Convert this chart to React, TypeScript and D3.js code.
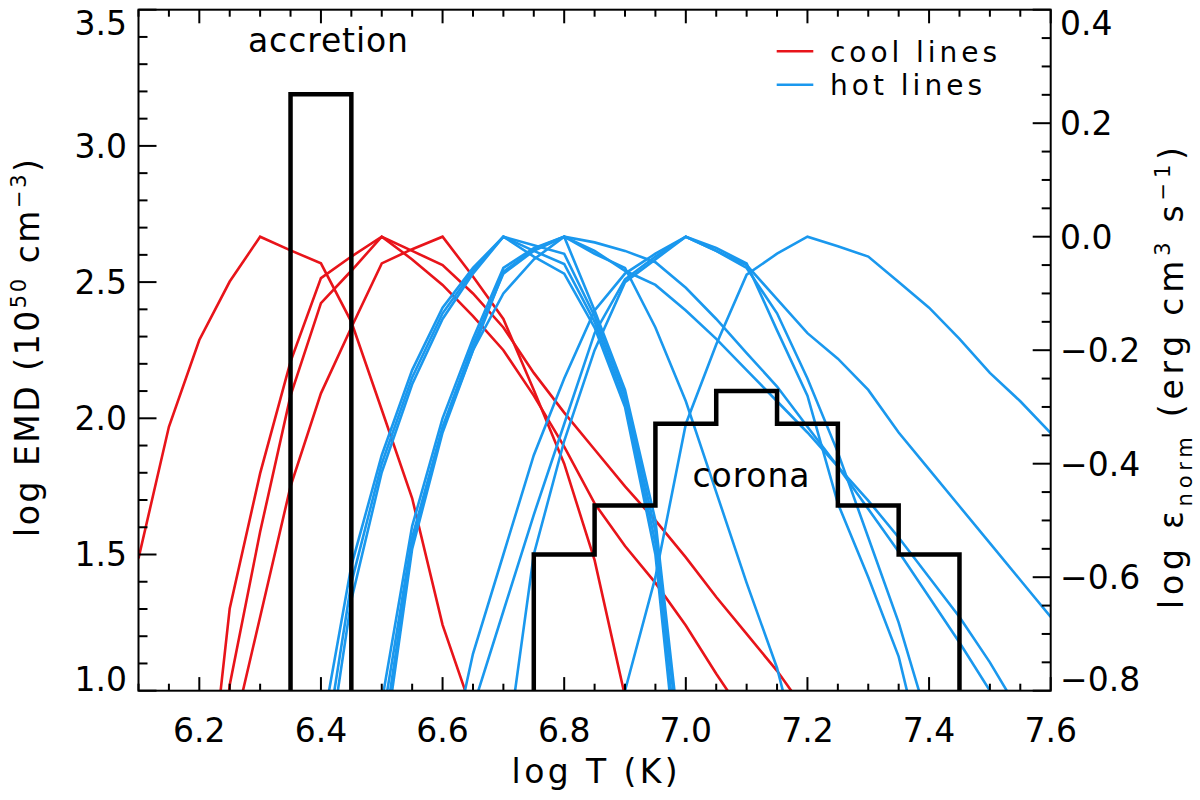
import React, { useEffect, useRef } from 'react';
import * as d3 from 'd3';

type Pt = [number, number];

// Normalised line emissivities, [log T, log eps_norm] (right axis)
const coolA: Pt[] = [[6.1, -0.567], [6.15, -0.335], [6.2, -0.182], [6.25, -0.079], [6.3, 0], [6.35, -0.024], [6.4, -0.047], [6.45, -0.15], [6.5, -0.305], [6.55, -0.461], [6.6, -0.684], [6.65, -0.84]];
const coolB: Pt[] = [[6.2, -1.14], [6.25, -0.655], [6.3, -0.417], [6.35, -0.22], [6.4, -0.073], [6.45, -0.035], [6.5, 0], [6.55, -0.025], [6.6, -0.05], [6.65, -0.1], [6.7, -0.16], [6.75, -0.24], [6.8, -0.31], [6.85, -0.375], [6.9, -0.44], [6.95, -0.5], [7.0, -0.565], [7.05, -0.635], [7.1, -0.7], [7.15, -0.765], [7.2, -0.84]];
const coolC: Pt[] = [[6.2, -1.3], [6.25, -0.79], [6.3, -0.52], [6.35, -0.28], [6.4, -0.117], [6.45, -0.06], [6.5, 0], [6.55, -0.04], [6.6, -0.085], [6.65, -0.14], [6.7, -0.2], [6.75, -0.28], [6.8, -0.37], [6.85, -0.47], [6.9, -0.545], [6.95, -0.61], [7.0, -0.685], [7.05, -0.77], [7.1, -0.85]];
const coolD: Pt[] = [[6.2, -1.3], [6.25, -0.9], [6.3, -0.67], [6.35, -0.44], [6.4, -0.276], [6.45, -0.16], [6.5, -0.047], [6.55, -0.022], [6.6, 0], [6.65, -0.07], [6.7, -0.145], [6.75, -0.27], [6.8, -0.4], [6.85, -0.57], [6.9, -0.81]];

const hotA: Pt[] = [[6.4, -0.88], [6.45, -0.58], [6.5, -0.385], [6.55, -0.235], [6.6, -0.125], [6.65, -0.055], [6.7, 0], [6.75, -0.015], [6.8, -0.03], [6.85, -0.14], [6.9, -0.28], [6.95, -0.52], [7.0, -1.0]];
const hotB: Pt[] = [[6.4, -0.95], [6.45, -0.61], [6.5, -0.4], [6.55, -0.248], [6.6, -0.135], [6.65, -0.06], [6.7, 0], [6.75, -0.025], [6.8, -0.048], [6.85, -0.15], [6.9, -0.29], [6.95, -0.54], [7.0, -1.05]];
const hotC: Pt[] = [[6.4, -1.0], [6.45, -0.64], [6.5, -0.415], [6.55, -0.26], [6.6, -0.145], [6.65, -0.065], [6.7, 0], [6.75, -0.035], [6.8, -0.065], [6.85, -0.16], [6.9, -0.3], [6.95, -0.56], [7.0, -1.08]];
const hotD: Pt[] = [[6.45, -1.2], [6.5, -0.82], [6.55, -0.51], [6.6, -0.32], [6.65, -0.18], [6.7, -0.055], [6.75, -0.02], [6.8, 0], [6.85, -0.13], [6.9, -0.27], [6.95, -0.5], [7.0, -0.98]];
const hotE: Pt[] = [[6.45, -1.25], [6.5, -0.86], [6.55, -0.53], [6.6, -0.335], [6.65, -0.19], [6.7, -0.065], [6.75, -0.025], [6.8, 0], [6.85, -0.03], [6.9, -0.055], [6.95, -0.16], [7.0, -0.29], [7.05, -0.45], [7.1, -0.61], [7.15, -0.76], [7.2, -0.97]];
const hotF: Pt[] = [[6.45, -1.3], [6.5, -0.9], [6.55, -0.54], [6.6, -0.34], [6.65, -0.2], [6.7, -0.1], [6.75, -0.04], [6.8, 0], [6.85, -0.01], [6.9, -0.025], [6.95, -0.045], [7.0, -0.09], [7.05, -0.145], [7.1, -0.205], [7.15, -0.264], [7.2, -0.335], [7.25, -0.405], [7.3, -0.48], [7.35, -0.555], [7.4, -0.635], [7.45, -0.715], [7.5, -0.8]];
const hotG: Pt[] = [[6.45, -1.3], [6.5, -0.93], [6.55, -0.55], [6.6, -0.345], [6.65, -0.2], [6.7, -0.062], [6.75, -0.022], [6.8, 0], [6.85, -0.025], [6.9, -0.06], [6.95, -0.085], [7.0, -0.13], [7.05, -0.18], [7.1, -0.235], [7.15, -0.29], [7.2, -0.345], [7.25, -0.405], [7.3, -0.465], [7.35, -0.53], [7.4, -0.6], [7.45, -0.67], [7.5, -0.75], [7.55, -0.84]];
const hotH: Pt[] = [[6.6, -0.98], [6.65, -0.735], [6.7, -0.56], [6.75, -0.385], [6.8, -0.25], [6.85, -0.13], [6.9, -0.065], [6.95, -0.03], [7.0, 0], [7.05, -0.025], [7.1, -0.05], [7.15, -0.11], [7.2, -0.17], [7.25, -0.215], [7.3, -0.27], [7.35, -0.345], [7.4, -0.41], [7.45, -0.475], [7.5, -0.54], [7.55, -0.605], [7.6, -0.67]];
const hotI: Pt[] = [[6.6, -1.05], [6.65, -0.83], [6.7, -0.66], [6.75, -0.49], [6.8, -0.33], [6.85, -0.17], [6.9, -0.075], [6.95, -0.035], [7.0, 0], [7.05, -0.025], [7.1, -0.055], [7.15, -0.135], [7.2, -0.25], [7.25, -0.38], [7.3, -0.53], [7.35, -0.68], [7.4, -0.86]];
const hotJ: Pt[] = [[6.7, -0.95], [6.75, -0.56], [6.8, -0.36], [6.85, -0.2], [6.9, -0.08], [6.95, -0.04], [7.0, 0], [7.05, -0.02], [7.1, -0.047], [7.15, -0.165], [7.2, -0.28], [7.25, -0.47], [7.3, -0.6], [7.35, -0.74], [7.4, -0.96]];
const hotK: Pt[] = [[6.85, -1.1], [6.9, -0.8], [6.95, -0.6], [7.0, -0.33], [7.05, -0.19], [7.1, -0.067], [7.15, -0.03], [7.2, 0], [7.25, -0.017], [7.3, -0.035], [7.35, -0.08], [7.4, -0.125], [7.45, -0.18], [7.5, -0.24], [7.55, -0.29], [7.6, -0.346]];

const coolLines = [coolA, coolB, coolC, coolD];
const hotLines = [hotA, hotB, hotC, hotD, hotE, hotF, hotG, hotH, hotI, hotJ, hotK];

// EMD bins (left axis): bin edges in log T and log EMD per bin
const accretionEdges = [6.35, 6.45];
const accretionEMD = [3.19];
const coronaEdges = [6.75, 6.85, 6.95, 7.05, 7.15, 7.25, 7.35, 7.45];
const coronaEMD = [1.5, 1.68, 1.98, 2.1, 1.98, 1.68, 1.5];

// Axis ticks
const xMajorTicks = [6.2, 6.4, 6.6, 6.8, 7.0, 7.2, 7.4, 7.6];
const yLeftMajorTicks = [1.0, 1.5, 2.0, 2.5, 3.0, 3.5];
const yRightMajorTicks = [-0.8, -0.6, -0.4, -0.2, 0.0, 0.2, 0.4];

const legendLabels = ['cool lines', 'hot lines'];

const RED = '#e8141a';
const BLUE = '#1a98ee';
const FONT = '"DejaVu Sans", sans-serif';

export default function App() {
  const svgRef = useRef<SVGSVGElement>(null);

  useEffect(() => {
    if (!svgRef.current) return;
    const svg = d3.select(svgRef.current);
    svg.selectAll('*').remove();

    const width = 1200;
    const height = 800;
    const margin = { top: 9.7, right: 149.3, bottom: 109.3, left: 138.5 };
    const x0 = margin.left;
    const x1 = width - margin.right;
    const y0 = height - margin.bottom;
    const y1 = margin.top;

    const x = d3.scaleLinear().domain([6.1, 7.6]).range([x0, x1]);
    const yL = d3.scaleLinear().domain([1.0, 3.5]).range([y0, y1]);
    const yR = d3.scaleLinear().domain([-0.8, 0.4]).range([y0, y1]);

    svg.append('rect').attr('width', width).attr('height', height).attr('fill', '#fff');

    svg.append('defs').append('clipPath').attr('id', 'plot-clip')
      .append('rect')
      .attr('x', x0).attr('y', y1)
      .attr('width', x1 - x0).attr('height', y0 - y1);

    const plot = svg.append('g').attr('clip-path', 'url(#plot-clip)');

    // Emissivity curves
    const line = d3.line<Pt>().x(d => x(d[0])).y(d => yR(d[1]));

    plot.append('g').selectAll('path')
      .data(coolLines)
      .enter()
      .append('path')
      .attr('d', d => line(d))
      .attr('fill', 'none')
      .attr('stroke', RED)
      .attr('stroke-width', 2.6)
      .attr('stroke-linejoin', 'miter');

    plot.append('g').selectAll('path')
      .data(hotLines)
      .enter()
      .append('path')
      .attr('d', d => line(d))
      .attr('fill', 'none')
      .attr('stroke', BLUE)
      .attr('stroke-width', 2.6)
      .attr('stroke-linejoin', 'miter');

    // EMD histograms drawn as steps from the floor of the axis
    const stepPoints = (edges: number[], values: number[]): Pt[] => {
      const pts: Pt[] = [[edges[0], 1.0]];
      values.forEach((v, i) => {
        pts.push([edges[i], v]);
        pts.push([edges[i + 1], v]);
      });
      pts.push([edges[edges.length - 1], 1.0]);
      return pts;
    };
    const emdLine = d3.line<Pt>().x(d => x(d[0])).y(d => yL(d[1]));

    [stepPoints(accretionEdges, accretionEMD), stepPoints(coronaEdges, coronaEMD)].forEach(pts => {
      plot.append('path')
        .attr('d', emdLine(pts))
        .attr('fill', 'none')
        .attr('stroke', '#000')
        .attr('stroke-width', 4.5)
        .attr('stroke-linejoin', 'miter');
    });

    // Frame
    svg.append('rect')
      .attr('x', x0).attr('y', y1)
      .attr('width', x1 - x0).attr('height', y0 - y1)
      .attr('fill', 'none')
      .attr('stroke', '#000')
      .attr('stroke-width', 2);

    const ticks = svg.append('g').attr('stroke', '#000').attr('stroke-width', 2);

    // X ticks, bottom and top, pointing inwards
    x.ticks(30).forEach(t => {
      const major = xMajorTicks.some(m => Math.abs(m - t) < 1e-6);
      const len = major ? 13.6 : 7;
      ticks.append('line').attr('x1', x(t)).attr('x2', x(t)).attr('y1', y0).attr('y2', y0 - len);
      ticks.append('line').attr('x1', x(t)).attr('x2', x(t)).attr('y1', y1).attr('y2', y1 + len);
    });

    // Left ticks
    yL.ticks(25).forEach(t => {
      const major = yLeftMajorTicks.some(m => Math.abs(m - t) < 1e-6);
      const len = major ? 18 : 9;
      ticks.append('line').attr('x1', x0).attr('x2', x0 + len).attr('y1', yL(t)).attr('y2', yL(t));
    });

    // Right ticks
    yR.ticks(24).forEach(t => {
      const major = yRightMajorTicks.some(m => Math.abs(m - t) < 1e-6);
      const len = major ? 18 : 9;
      ticks.append('line').attr('x1', x1).attr('x2', x1 - len).attr('y1', yR(t)).attr('y2', yR(t));
    });

    const fmt = d3.format('.1f');
    const labels = svg.append('g')
      .attr('font-family', FONT)
      .attr('font-size', 33)
      .attr('fill', '#000');

    labels.selectAll('.xlab')
      .data(xMajorTicks)
      .enter()
      .append('text')
      .attr('x', d => x(d))
      .attr('y', 742)
      .attr('text-anchor', 'middle')
      .text(d => fmt(d));

    const clampY = (y: number) => Math.max(y1 + 13, Math.min(y0 - 12, y));

    labels.selectAll('.ylab')
      .data(yLeftMajorTicks)
      .enter()
      .append('text')
      .attr('x', 127)
      .attr('y', d => clampY(yL(d)))
      .attr('dy', '0.36em')
      .attr('text-anchor', 'end')
      .text(d => fmt(d));

    labels.selectAll('.yrlab')
      .data(yRightMajorTicks)
      .enter()
      .append('text')
      .attr('x', 1060)
      .attr('y', d => clampY(yR(d)))
      .attr('dy', '0.36em')
      .attr('text-anchor', 'start')
      .text(d => fmt(d));

    // Axis titles
    labels.append('text')
      .attr('x', (x0 + x1) / 2)
      .attr('y', 783)
      .attr('text-anchor', 'middle')
      .attr('textLength', 166)
      .text('log T (K)');

    const leftTitle = labels.append('text')
      .attr('transform', 'translate(39, 348) rotate(-90)')
      .attr('text-anchor', 'middle')
      .attr('textLength', 378);
    leftTitle.append('tspan').text('log EMD (10');
    leftTitle.append('tspan').attr('font-size', 21).attr('dy', -13).text('50');
    leftTitle.append('tspan').attr('dy', 13).text(' cm');
    leftTitle.append('tspan').attr('font-size', 21).attr('dy', -13).text('\u22123');
    leftTitle.append('tspan').attr('dy', 13).text(')');

    const rightTitle = labels.append('text')
      .attr('transform', 'translate(1183, 378) rotate(-90)')
      .attr('text-anchor', 'middle')
      .attr('textLength', 462);
    rightTitle.append('tspan').text('log \u03b5');
    rightTitle.append('tspan').attr('font-size', 21).attr('dy', 9).text('norm');
    rightTitle.append('tspan').attr('dy', -9).text(' (erg cm');
    rightTitle.append('tspan').attr('font-size', 21).attr('dy', -13).text('3');
    rightTitle.append('tspan').attr('dy', 13).text(' s');
    rightTitle.append('tspan').attr('font-size', 21).attr('dy', -13).text('\u22121');
    rightTitle.append('tspan').attr('dy', 13).text(')');

    // Annotations
    labels.append('text')
      .attr('x', 328).attr('y', 52)
      .attr('text-anchor', 'middle')
      .attr('textLength', 160)
      .text('accretion');

    labels.append('text')
      .attr('x', 751).attr('y', 487)
      .attr('text-anchor', 'middle')
      .attr('textLength', 117)
      .text('corona');

    // Legend
    const legendColors = [RED, BLUE];
    const legendLengths = [167, 152];
    legendLabels.forEach((label, i) => {
      const base = 61.7 + i * 33.5;
      svg.append('line')
        .attr('x1', 776.7).attr('x2', 813.3)
        .attr('y1', base - 10.5).attr('y2', base - 10.5)
        .attr('stroke', legendColors[i])
        .attr('stroke-width', 2.6);
      labels.append('text')
        .attr('x', 830).attr('y', base)
        .attr('font-size', 28)
        .attr('textLength', legendLengths[i])
        .text(label);
    });
  }, []);

  return (
    <svg
      ref={svgRef}
      width={1200}
      height={800}
      style={{ position: 'absolute', left: 0, top: 0, display: 'block' }}
    />
  );
}
